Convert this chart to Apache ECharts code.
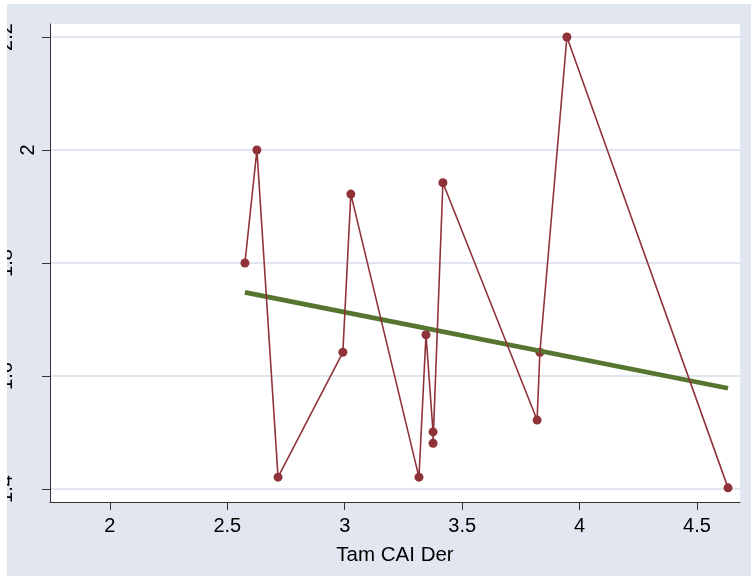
<!DOCTYPE html>
<html>
<head>
<meta charset="utf-8">
<script src="https://cdn.jsdelivr.net/npm/echarts@6/dist/echarts.min.js"></script>
<style>
html,body{margin:0;padding:0;background:#fff;}
#c{position:absolute;left:7px;top:4px;width:744px;height:572px;}
</style>
</head>
<body>
<div id="c"></div>
<script>
var xVals = [2.575, 2.626, 2.716, 2.992, 3.026, 3.316, 3.346, 3.376, 3.376, 3.418, 3.819, 3.831, 3.946, 4.632];
var yVals = [1.800, 2.000, 1.421, 1.642, 1.922, 1.421, 1.673, 1.501, 1.481, 1.942, 1.522, 1.642, 2.200, 1.402];
var xTicks = [2, 2.5, 3, 3.5, 4, 4.5];
var yTicks = [1.4, 1.6, 1.8, 2, 2.2];
var xTitle = 'Tam CAI Der';

// OLS linear fit (as drawn by the original)
var n = xVals.length, mx = 0, my = 0;
for (var i = 0; i < n; i++) { mx += xVals[i]; my += yVals[i]; }
mx /= n; my /= n;
var sxy = 0, sxx = 0;
for (var i = 0; i < n; i++) { sxy += (xVals[i]-mx)*(yVals[i]-my); sxx += (xVals[i]-mx)*(xVals[i]-mx); }
var b = sxy / sxx, a = my - b * mx;
var xMin = Math.min.apply(null, xVals), xMax = Math.max.apply(null, xVals);
var fitData = [[xMin, a + b*xMin], [xMax, a + b*xMax]];
var pts = xVals.map(function(x, i){ return [x, yVals[i]]; });

var chart = echarts.init(document.getElementById('c'));
var red = '#8f323a';
var F = 'Liberation Sans';
chart.setOption({
  backgroundColor: '#e2e6f1',
  animation: false,
  grid: {left: 43, top: 20, right: 11, bottom: 74, show: true, backgroundColor: '#ffffff', borderWidth: 0,
         outerBoundsMode: 'none', containLabel: false},
  xAxis: {
    type: 'value', min: 1.745, max: 4.683,
    name: xTitle, nameLocation: 'middle', nameGap: 43,
    nameTextStyle: {fontFamily: F, fontSize: 20.5, color: '#000'},
    axisLine: {show: true, onZero: false, lineStyle: {color: '#333', width: 1}},
    axisTick: {show: true, length: 8, customValues: xTicks, lineStyle: {color: '#333'}},
    axisLabel: {customValues: xTicks, fontFamily: F, fontSize: 20, color: '#000', margin: 14},
    splitLine: {show: false}
  },
  yAxis: {
    type: 'value', min: 1.377, max: 2.223,
    axisLine: {show: true, onZero: false, lineStyle: {color: '#333', width: 1}},
    axisTick: {show: true, length: 8, customValues: yTicks, lineStyle: {color: '#333'}},
    axisLabel: {
      customValues: yTicks, rotate: 90, fontFamily: F, fontSize: 20, color: '#000', margin: 12,
      formatter: function(v){ return v === 2 ? '{a|2}' : '{b|' + v + '}'; },
      rich: {a: {fontFamily: F, fontSize: 20, color: '#000'},
             b: {fontFamily: F, fontSize: 20, color: '#000', padding: [0, 0, 22, 0]}}
    },
    splitLine: {show: true, lineStyle: {color: '#e1e5ef', width: 2}}
  },
  series: [
    {type: 'scatter', data: pts, symbol: 'circle', symbolSize: 9, itemStyle: {color: red, opacity: 1}, z: 2},
    {type: 'line', data: fitData, symbol: 'none', lineStyle: {color: '#557530', width: 4.8}, z: 3},
    {type: 'line', data: pts, symbol: 'none', lineStyle: {color: red, width: 1.6}, z: 4}
  ]
});
</script>
</body>
</html>
